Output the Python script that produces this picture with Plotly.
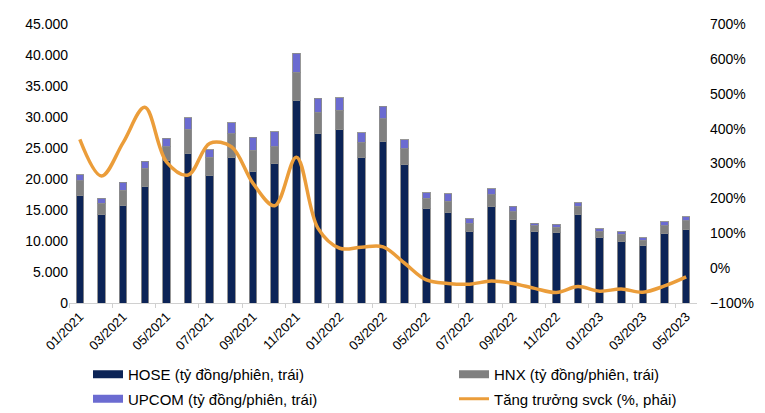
import plotly.graph_objects as go

months = ["01/2021", "02/2021", "03/2021", "04/2021", "05/2021", "06/2021", "07/2021", "08/2021",
          "09/2021", "10/2021", "11/2021", "12/2021", "01/2022", "02/2022", "03/2022", "04/2022",
          "05/2022", "06/2022", "07/2022", "08/2022", "09/2022", "10/2022", "11/2022", "12/2022",
          "01/2023", "02/2023", "03/2023", "04/2023", "05/2023"]

hose = [17300, 14200, 15800, 18800, 23000, 24100, 20600, 23400, 21200, 22500, 32700, 27300, 28000, 23400,
        26000, 22300, 15200, 14600, 11500, 15500, 13400, 11500, 11400, 14200, 10600, 10000, 9200, 11200, 11800]
hnx = [2400, 1900, 2400, 2900, 2200, 3900, 2900, 3900, 3400, 2700, 4500, 3500, 3100, 2500,
       3700, 2600, 1700, 1800, 1300, 2000, 1300, 1000, 800, 1400, 900, 1100, 900, 1300, 1500]
upcom = [1000, 800, 1300, 1200, 1400, 1900, 1200, 1800, 2100, 2400, 3100, 2200, 2000, 1600,
         2000, 1400, 900, 1200, 800, 900, 900, 400, 500, 600, 500, 400, 400, 600, 600]
growth = [369, 264, 360, 461, 305, 267, 358, 348, 243, 179, 318, 114, 57, 60, 61, 14, -34, -44, -46,
          -37, -44, -58, -70, -53, -66, -60, -69, -51, -25]

names = ["HOSE (tỷ đồng/phiên, trái)", "HNX (tỷ đồng/phiên, trái)",
         "UPCOM (tỷ đồng/phiên, trái)", "Tăng trưởng svck (%, phải)"]

C_HOSE = "#0c2457"
C_HNX = "#808080"
C_UPCOM = "#6b6bd1"
C_LINE = "#eb9d3a"
FONT = "Liberation Sans, Arial, sans-serif"

fig = go.Figure()
border = dict(color="rgba(140,140,140,0.9)", width=1)
for vals, col in [(hose, C_HOSE), (hnx, C_HNX), (upcom, C_UPCOM)]:
    fig.add_trace(go.Bar(x=months, y=vals, marker=dict(color=col, line=border),
                         showlegend=False, yaxis="y"))

fig.add_trace(go.Scatter(x=months, y=growth, mode="lines", yaxis="y2",
                         line=dict(color=C_LINE, width=3.5, shape="spline", smoothing=1),
                         showlegend=False))

# legend-only entries
legend_specs = [(names[0], C_HOSE, "legend", "g1"), (names[2], C_UPCOM, "legend", "g2"),
                (names[1], C_HNX, "legend2", "g3"), (names[3], C_LINE, "legend2", "g4")]
for nm, col, lg, grp in legend_specs:
    w = 3 if nm == names[3] else 8
    fig.add_trace(go.Scatter(x=[None], y=[None], mode="lines", name=nm, legend=lg,
                             legendgroup=grp, line=dict(color=col, width=w)))

# page shows the figure with an 8px offset; size the figure to fit the window
OFF = 8
W, H = 765 - OFF, 413 - OFF
L, T = 69 - OFF, 24 - OFF
R = W - (697 - OFF)
B = H - (303 - OFF)
PW, PH = W - L - R, H - T - B
LEG_Y = (H - B - (358 - OFF)) / PH

fig.update_layout(
    width=W, height=H,
    margin=dict(l=L, r=R, t=T, b=B, autoexpand=False),
    barmode="stack", bargap=0.65,
    plot_bgcolor="white", paper_bgcolor="white",
    separators=",.",
    font=dict(family=FONT, size=14, color="#000000"),
    xaxis=dict(type="category", range=[-0.5, 28.5], tickmode="linear", dtick=2,
               tickangle=-45, tickfont=dict(size=13), showline=True, linecolor="#d0d0d0",
               linewidth=1, ticks="outside", tickson="boundaries", ticklen=4,
               tickcolor="#d0d0d0", showgrid=False, automargin=False),
    yaxis=dict(range=[0, 45000], dtick=5000, tickformat=",d", showgrid=False,
               zeroline=False, showline=False, tickfont=dict(size=14), automargin=False),
    yaxis2=dict(range=[-100, 700], dtick=100, ticksuffix="%", overlaying="y", side="right",
                showgrid=False, zeroline=False, showline=False, tickfont=dict(size=14),
                automargin=False, ticklabelstandoff=12),
    legend=dict(x=(88 - 69) / PW, y=LEG_Y, xanchor="left", yanchor="top", orientation="v",
                tracegroupgap=2, font=dict(size=15), bgcolor="rgba(0,0,0,0)"),
    legend2=dict(x=(454 - 69) / PW, y=LEG_Y, xanchor="left", yanchor="top", orientation="v",
                 tracegroupgap=2, font=dict(size=15), bgcolor="rgba(0,0,0,0)"),
)

fig.write_html("out.html")
